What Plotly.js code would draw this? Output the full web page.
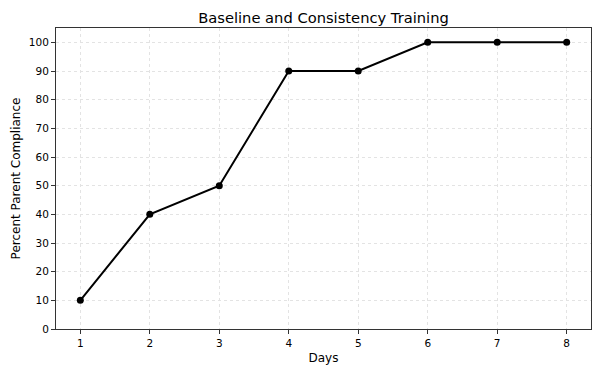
<!DOCTYPE html>
<html><head><meta charset="utf-8">
<script src="https://cdn.plot.ly/plotly-3.0.1.min.js"></script>
<style>html,body{margin:0;padding:0;background:#fff;}#c{width:602px;height:376px;}</style>
</head><body><div id="c"></div>
<script>
const days = [1, 2, 3, 4, 5, 6, 7, 8];
const compliance = [10, 40, 50, 90, 90, 100, 100, 100];
const yTicks = [0, 10, 20, 30, 40, 50, 60, 70, 80, 90, 100];

const trace = {
  x: days, y: compliance, type: 'scatter', mode: 'lines+markers',
  line: {color: '#000', width: 2},
  marker: {color: '#000', size: 7},
  hoverinfo: 'none'
};
const axisCommon = {
  showline: true, linecolor: '#333', linewidth: 1, mirror: true,
  ticks: 'outside', ticklen: 4, tickcolor: '#333', tickwidth: 1,
  showgrid: true, gridcolor: '#e3e3e3', griddash: 'dot', gridwidth: 1,
  zeroline: false,
  tickfont: {family: 'DejaVu Sans', size: 10.5, color: '#000'}
};
const layout = {
  width: 602, height: 376,
  margin: {l: 56, r: 11, t: 28, b: 47},
  paper_bgcolor: '#fff', plot_bgcolor: '#fff',
  showlegend: false,
  title: {text: 'Baseline and Consistency Training', xref: 'paper', x: 0.5, xanchor: 'center', yref: 'container', y: 0.953, yanchor: 'middle',
    font: {family: 'DejaVu Sans', size: 14.7, color: '#000'}},
  xaxis: Object.assign({}, axisCommon, {
    range: [0.65, 8.35], tickvals: days, ticktext: days.map(String),
    title: {text: 'Days', font: {family: 'DejaVu Sans', size: 12, color: '#000'}, standoff: 6}
  }),
  yaxis: Object.assign({}, axisCommon, {
    range: [0, 105], tickvals: yTicks, ticktext: yTicks.map(String),
    title: {text: 'Percent Parent Compliance', font: {family: 'DejaVu Sans', size: 12, color: '#000'}, standoff: 5}
  })
};
Plotly.newPlot('c', [trace], layout, {staticPlot: true});
</script></body></html>
